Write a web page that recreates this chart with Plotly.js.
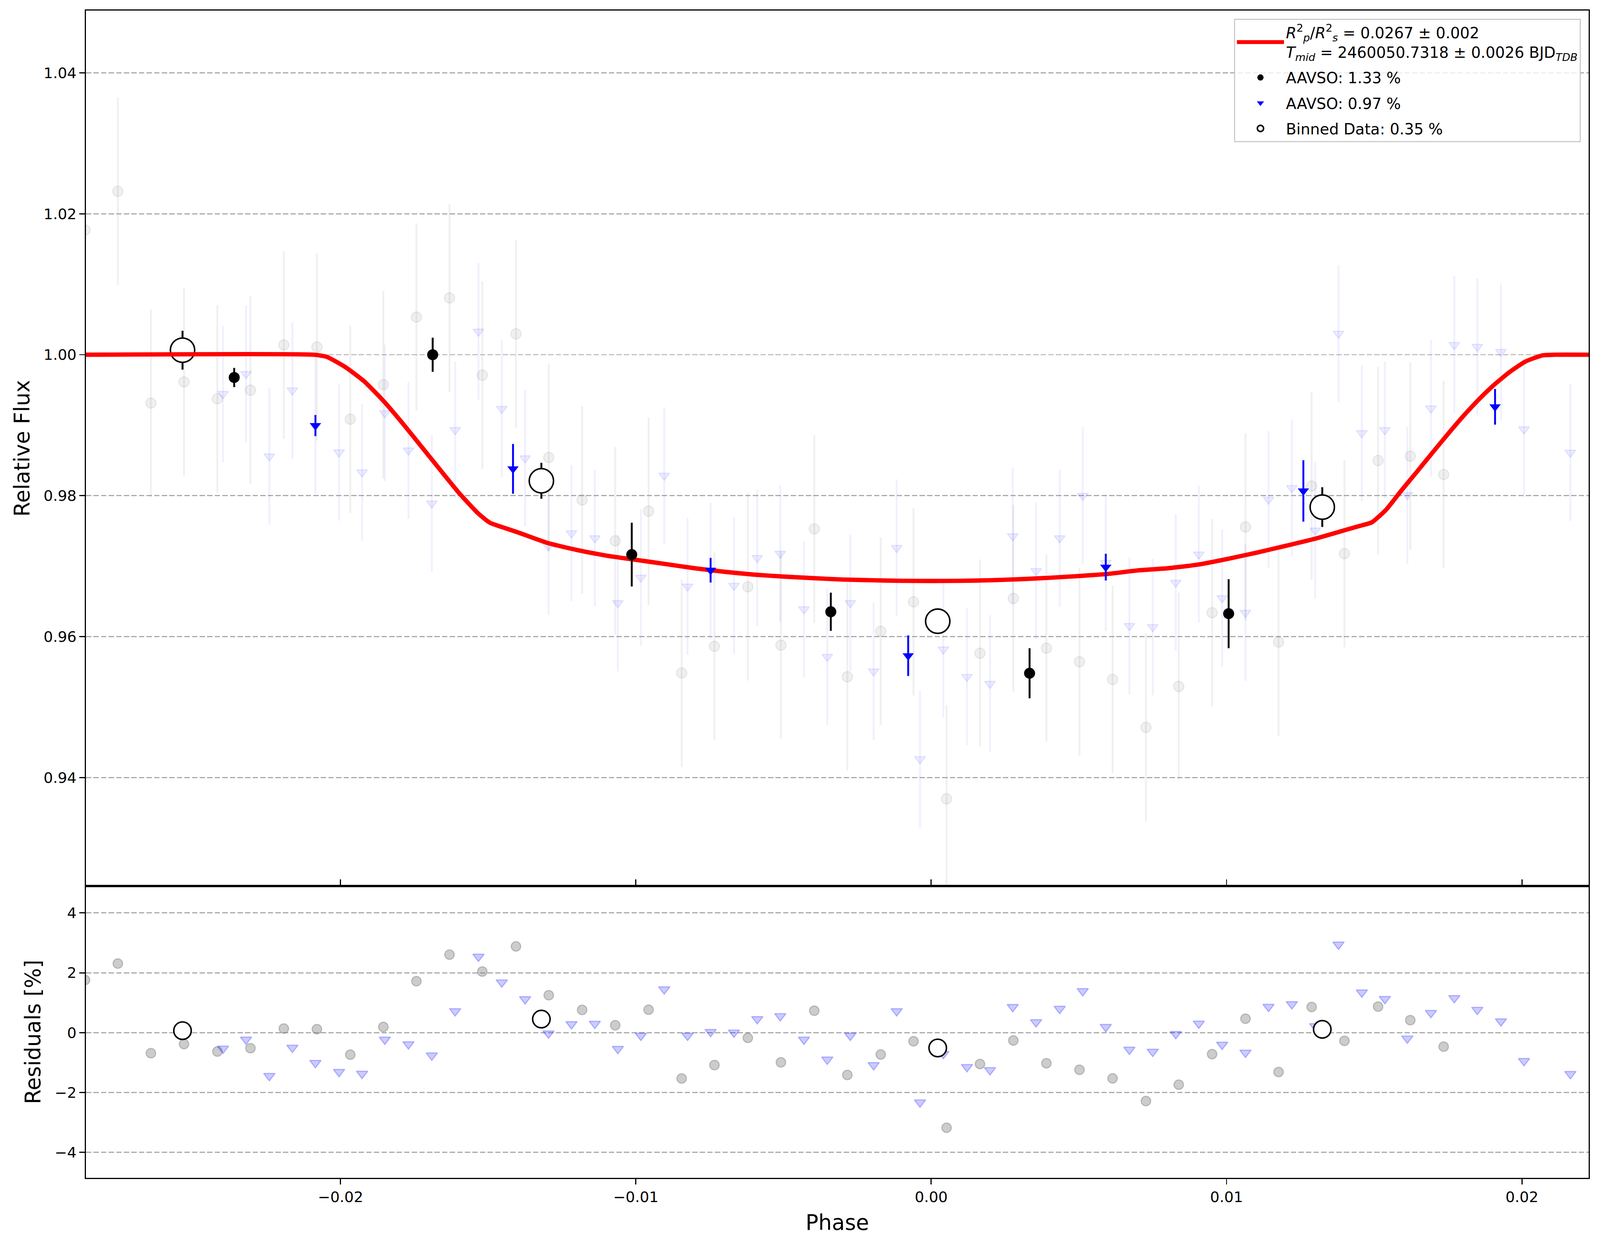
<!DOCTYPE html>
<html>
<head>
<meta charset="utf-8">
<script src="https://cdn.plot.ly/plotly-3.0.1.min.js"></script>
<style>html,body{margin:0;padding:0;background:#fff;overflow:hidden;}#chart{position:absolute;left:0;top:0;}</style>
</head>
<body>
<div id="chart"></div>
<script>
// ---------- data ----------
// individual AAVSO points, 1.33 % scatter (grey circles)
const circPhase = [-0.02865,-0.02754,-0.02642,-0.0253,-0.02417,-0.02305,-0.02192,-0.0208,-0.01967,-0.01855,-0.01743,-0.01631,-0.0152,-0.01406,-0.01295,-0.01182,-0.0107,-0.00957,-0.00845,-0.00734,-0.00621,-0.00509,-0.00396,-0.00284,-0.00171,-0.0006,0.00052,0.00165,0.00278,0.0039,0.00502,0.00614,0.00727,0.00838,0.00951,0.01064,0.01176,0.01288,0.01399,0.01513,0.01622,0.01735];
const circFlux = [1.0177,1.0232,0.99314,0.99615,0.99375,0.99498,1.00138,1.0011,0.99085,0.99576,1.00534,1.00806,0.9971,1.00296,0.98542,0.9794,0.97359,0.97781,0.95485,0.95863,0.96707,0.95879,0.97529,0.9543,0.96077,0.96493,0.93699,0.95764,0.96542,0.95836,0.95644,0.95392,0.94712,0.95293,0.9634,0.97556,0.95923,0.98137,0.97178,0.98499,0.9856,0.98301];
const circResid = [1.76,2.31,-0.685,-0.38,-0.63,-0.517,0.137,0.118,-0.735,0.193,1.719,2.609,2.042,2.883,1.252,0.76,0.249,0.766,-1.53,-1.083,-0.174,-0.99,0.735,-1.413,-0.729,-0.286,-3.176,-1.046,-0.26,-1.02,-1.24,-1.526,-2.285,-1.737,-0.716,0.467,-1.314,0.859,-0.274,0.872,0.417,-0.467];
const circErr = 0.0133;

// individual AAVSO points, 0.97 % scatter (blue triangles)
const triPhase = [-0.02398,-0.0232,-0.02241,-0.02163,-0.02085,-0.02005,-0.01927,-0.0185,-0.0177,-0.01691,-0.01612,-0.01533,-0.01454,-0.01375,-0.01296,-0.01218,-0.01139,-0.01061,-0.00983,-0.00904,-0.00825,-0.00747,-0.00668,-0.00589,-0.00511,-0.00431,-0.00352,-0.00274,-0.00195,-0.00117,-0.00038,0.00041,0.00121,0.00199,0.00276,0.00355,0.00435,0.00513,0.00591,0.00671,0.0075,0.00828,0.00906,0.00985,0.01064,0.01142,0.01221,0.013,0.01379,0.01458,0.01536,0.01612,0.01692,0.01771,0.01849,0.01929,0.02007,0.02164];
const triFlux = [0.99445,0.99728,0.98558,0.99495,0.9899,0.98615,0.98332,0.99173,0.98643,0.9789,0.98933,1.0033,0.99233,0.98532,0.97282,0.97468,0.97397,0.96477,0.96838,0.98285,0.96712,0.9693,0.96723,0.97118,0.97178,0.96389,0.95715,0.96477,0.95507,0.9726,0.94263,0.95819,0.9543,0.95332,0.97425,0.96932,0.97397,0.98,0.9705,0.96153,0.96137,0.96767,0.97167,0.96548,0.9634,0.97945,0.9811,0.97507,1.003,0.98888,0.98932,0.98009,0.9924,1.0014,1.00113,1.00042,0.98942,0.98611];
const triResid = [-0.53,-0.23,-1.445,-0.5,-1.01,-1.31,-1.37,-0.23,-0.386,-0.76,0.72,2.54,1.68,1.12,-0.025,0.286,0.3,-0.54,-0.1,1.45,-0.1,0.025,0.006,0.455,0.554,-0.23,-0.897,-0.1,-1.083,0.72,-2.33,-0.71,-1.146,-1.25,0.86,0.35,0.8,1.39,0.193,-0.567,-0.635,-0.044,0.305,-0.4,-0.666,0.866,0.953,0.22,2.945,1.345,1.127,-0.193,0.66,1.158,0.766,0.38,-0.946,-1.38];
const triErr = 0.0097;

// per-dataset binned points
const blackPhase = [-0.0236,-0.01688,-0.01014,-0.0034,0.00333,0.01007];
const blackFlux = [0.99677,1.0,0.97164,0.96353,0.9548,0.96326];
const blackErr = [0.00136,0.00242,0.00452,0.00271,0.00356,0.0049];

const bluePhase = [-0.02085,-0.01416,-0.00747,-0.00078,0.00591,0.0126,0.01909];
const blueFlux = [0.98995,0.98381,0.96942,0.95729,0.96986,0.98068,0.99261];
const blueErr = [0.0015,0.00353,0.00175,0.00288,0.0019,0.00436,0.00253];

// combined binned data
const binPhase = [-0.02535,-0.0132,0.00022,0.01324];
const binFlux = [1.00064,0.98211,0.96219,0.97838];
const binErr = [0.00276,0.00255,0.0012,0.00282];
const binResid = [0.068,0.455,-0.51,0.112];

// transit model curve
const modelPhase = [-0.0287,-0.0209,-0.02047,-0.01983,-0.01919,-0.01854,-0.0179,-0.01726,-0.01662,-0.01597,-0.01533,-0.01494,-0.0145,-0.014,-0.013,-0.012,-0.011,-0.01,-0.009,-0.008,-0.007,-0.006,-0.005,-0.004,-0.003,-0.002,-0.001,0.0,0.001,0.002,0.003,0.004,0.005,0.006,0.007,0.008,0.009,0.01,0.011,0.012,0.013,0.014,0.0145,0.01492,0.0154,0.01591,0.01644,0.01696,0.01749,0.01801,0.01854,0.01906,0.01958,0.02011,0.02069,0.0211,0.0223];
const modelFlux = [1.0,1.0,0.99971,0.99823,0.99619,0.99342,0.99028,0.98696,0.98363,0.9803,0.97744,0.97616,0.9755,0.9748,0.9733,0.9723,0.9715,0.9709,0.9703,0.9697,0.9692,0.9688,0.96852,0.9683,0.9681,0.968,0.96792,0.9679,0.96792,0.968,0.96815,0.96835,0.9686,0.9689,0.9694,0.9697,0.9702,0.971,0.9719,0.97288,0.9739,0.9751,0.9757,0.97622,0.978,0.98069,0.98337,0.98605,0.98873,0.99127,0.99365,0.99574,0.99753,0.99902,0.99991,1.0,1.0];

// tick values / labels
const xTicks = [-0.02,-0.01,0.0,0.01,0.02];
const fluxTicks = [0.94,0.96,0.98,1.00,1.02,1.04];
const residTicks = [-4,-2,0,2,4];

const modelLabel = '<i>R</i><sup>2</sup><sub><i>p</i></sub>/<i>R</i><sup>2</sup><sub><i>s</i></sub> = 0.0267 ± 0.002<br><i>T</i><sub><i>mid</i></sub> = 2460050.7318 ± 0.0026 BJD<sub><i>TDB</i></sub>';
const blackLabel = 'AAVSO: 1.33 %';
const blueLabel = 'AAVSO: 0.97 %';
const binLabel = 'Binned Data: 0.35 %';

// ---------- sizing (reference drawn at 4215 x 3192) ----------
const W = window.innerWidth || 4215;
const H = window.innerHeight || 3192;
const k = Math.min(W / 4215, H / 3192);
const s = v => v * k;
const chartDiv = document.getElementById('chart');
chartDiv.style.width = W + 'px';
chartDiv.style.height = H + 'px';

const FONT = 'DejaVu Sans, Verdana, sans-serif';
const traces = [
  {x: circPhase, y: circFlux, xaxis:'x', yaxis:'y', type:'scatter', mode:'markers', showlegend:false,
   marker:{symbol:'circle', size:s(27), color:'rgba(128,128,128,0.12)', line:{color:'rgba(128,128,128,0.14)', width:s(3)}},
   error_y:{type:'constant', value:circErr, visible:true, color:'rgba(128,128,128,0.12)', thickness:s(5), width:0}},
  {x: triPhase, y: triFlux, xaxis:'x', yaxis:'y', type:'scatter', mode:'markers', showlegend:false,
   marker:{symbol:'triangle-down', size:s(25), color:'rgba(0,0,255,0.07)', line:{color:'rgba(0,0,255,0.09)', width:s(3)}},
   error_y:{type:'constant', value:triErr, visible:true, color:'rgba(0,0,255,0.06)', thickness:s(5), width:0}},
  {x: binPhase, y: binFlux, xaxis:'x', yaxis:'y', type:'scatter', mode:'markers', name: binLabel, legendrank:4, legendgroup:'g4',
   marker:{symbol:'circle', size:s(64), color:'#ffffff', line:{color:'#000000', width:s(4)}},
   error_y:{type:'data', array:binErr, visible:true, color:'#000000', thickness:s(5), width:0}},
  {x: modelPhase, y: modelFlux, xaxis:'x', yaxis:'y', type:'scatter', mode:'lines', name: modelLabel, legendrank:1, legendgroup:'g1',
   line:{color:'#ff0000', width:s(11.5), shape:'spline', smoothing:0.5}},
  {x: blackPhase, y: blackFlux, xaxis:'x', yaxis:'y', type:'scatter', mode:'markers', name: blackLabel, legendrank:2, legendgroup:'g2',
   marker:{symbol:'circle', size:s(29), color:'#000000'},
   error_y:{type:'data', array:blackErr, visible:true, color:'#000000', thickness:s(5), width:0}},
  {x: bluePhase, y: blueFlux, xaxis:'x', yaxis:'y', type:'scatter', mode:'markers', name: blueLabel, legendrank:3, legendgroup:'g3',
   marker:{symbol:'triangle-down', size:s(26), color:'#0000ff'},
   error_y:{type:'data', array:blueErr, visible:true, color:'#0000ff', thickness:s(5), width:0}},
  // residuals
  {x: circPhase, y: circResid, xaxis:'x', yaxis:'y2', type:'scatter', mode:'markers', showlegend:false,
   marker:{symbol:'circle', size:s(25), color:'rgba(128,128,128,0.4)', line:{color:'rgba(128,128,128,0.45)', width:s(3)}}},
  {x: triPhase, y: triResid, xaxis:'x', yaxis:'y2', type:'scatter', mode:'markers', showlegend:false,
   marker:{symbol:'triangle-down', size:s(26), color:'rgba(0,0,255,0.2)', line:{color:'rgba(0,0,255,0.25)', width:s(3)}}},
  {x: binPhase, y: binResid, xaxis:'x', yaxis:'y2', type:'scatter', mode:'markers', showlegend:false,
   marker:{symbol:'circle', size:s(46), color:'#ffffff', line:{color:'#000000', width:s(4)}}}
];

const axisCommon = {
  showline:true, linecolor:'#000', linewidth:s(3), zeroline:false,
  ticks:'outside', ticklen:s(14), tickwidth:s(3), tickcolor:'#000',
  tickfont:{family:FONT, size:s(39), color:'#000'}
};
const dash = s(14).toFixed(1) + 'px,' + s(6).toFixed(1) + 'px';

const layout = {
  width:W, height:H,
  margin:{l:W*226/4215, r:W*30/4215, t:H*27/3192, b:H*177/3192, pad:0},
  paper_bgcolor:'#fff', plot_bgcolor:'#fff',
  font:{family:FONT, color:'#000', size:s(37)},
  showlegend:true,
  legend:{x:0.9947, y:0.993, xanchor:'right', yanchor:'top',
          bgcolor:'rgba(255,255,255,0.8)', bordercolor:'#cccccc', borderwidth:s(3),
          font:{family:FONT, size:s(40), color:'#000'}, itemwidth:Math.max(30, s(124)), valign:'middle',
          traceorder:'grouped', tracegroupgap:s(12)},
  xaxis: Object.assign({}, axisCommon, {
    anchor:'y2', domain:[0,1], range:[-0.02862, 0.02226], mirror:'all',
    tickvals:xTicks, tickformat:'.2f', showgrid:false, ticklabelstandoff:s(2),
    title:{text:'Phase', font:{family:FONT, size:s(56), color:'#000'}, standoff:s(26)}
  }),
  yaxis: Object.assign({}, axisCommon, {
    anchor:'x', domain:[0.25,1], range:[0.92461, 1.04884], mirror:true,
    tickvals:fluxTicks, tickformat:'.2f', ticklabelstandoff:s(24),
    showgrid:true, gridcolor:'#aaaaaa', gridwidth:s(3), griddash:dash,
    title:{text:'Relative Flux', font:{family:FONT, size:s(56), color:'#000'}, standoff:s(20)}
  }),
  yaxis2: Object.assign({}, axisCommon, {
    anchor:'x', domain:[0,0.25], range:[-4.85, 4.90], mirror:true,
    tickvals:residTicks, tickformat:'d', ticklabelstandoff:s(24),
    showgrid:true, gridcolor:'#aaaaaa', gridwidth:s(3), griddash:dash,
    title:{text:'Residuals [%]', font:{family:FONT, size:s(56), color:'#000'}, standoff:s(20)}
  })
};

Plotly.newPlot('chart', traces, layout, {staticPlot:true, displayModeBar:false});
</script>
</body>
</html>
